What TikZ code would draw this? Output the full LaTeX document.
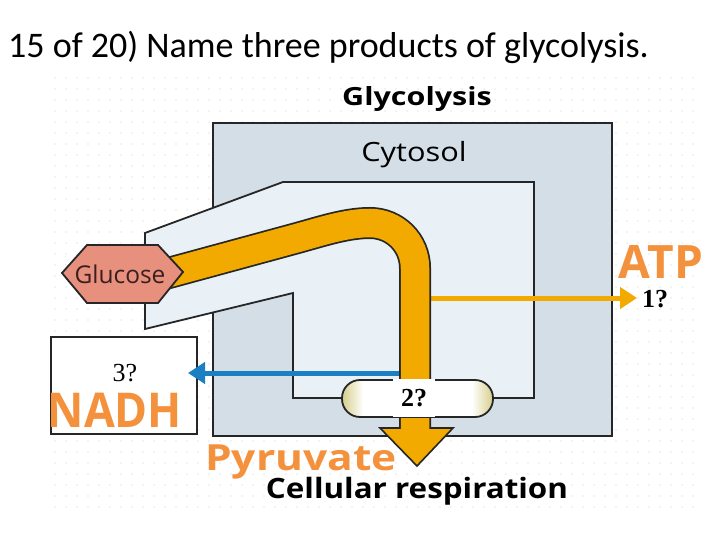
\documentclass[tikz,border=0pt]{standalone}
\usepackage{fontspec}
\setmainfont{Open Sans}
\newfontfamily\titlefont{Carlito}
\newfontfamily\qfont{Liberation Serif}
\usetikzlibrary{arrows.meta}
\definecolor{boxblue}{HTML}{D4DEE6}
\definecolor{funnelc}{HTML}{EAF1F6}
\definecolor{tubec}{HTML}{F2A900}
\definecolor{lblc}{HTML}{F4913C}
\definecolor{gluc}{HTML}{E8907E}
\definecolor{glutext}{HTML}{3B1F1F}
\definecolor{pilltan}{HTML}{D6CE8A}
\definecolor{arrblue}{HTML}{1B7FC3}
\definecolor{edgec}{HTML}{262626}
\definecolor{dotc}{HTML}{CFCFCF}
\pgfdeclarehorizontalshading{pillshade}{100bp}{color(0bp)=(pilltan); color(25bp)=(pilltan); color(32bp)=(white); color(68bp)=(white); color(75bp)=(pilltan); color(100bp)=(pilltan)}
\begin{document}
\begin{tikzpicture}[x=1pt,y=-1pt,
  outline/.style={draw=edgec,line width=1.8pt,line join=miter},
  bigorange/.style={text=lblc,font=\bfseries\fontsize{#1}{#1}\selectfont,inner sep=0pt},
  qmark/.style={font=\qfont\bfseries\fontsize{26}{26}\selectfont,inner sep=0pt},
  flow/.style={line width=5pt,-{Triangle[length=17pt,width=21pt]}}]
\useasboundingbox (0,0) rectangle (720,540);
\fill[white] (0,0) rectangle (720,540);
% dotted background
\foreach \i in {0,...,58}{\foreach \j in {0,...,39}{\fill[dotc] (55+11*\i,78+11*\j) circle (0.65);}}
% title
\node[anchor=base west,inner sep=0pt,font=\titlefont\fontsize{36}{36}\selectfont] (title) at (8,58) {15 of 20) Name three products of glycolysis.};
% cytosol box
\filldraw[outline,fill=boxblue] (213,123) rectangle (612,436);
% funnel
\filldraw[outline,fill=funnelc] (145,233) -- (283,182) -- (534,182) -- (534,398) -- (293,398) -- (293,293) -- (145,329) -- cycle;
% NADH box
\filldraw[outline,fill=white] (51,337) rectangle (197,434);
\node[anchor=north west,inner sep=0pt] (nadhbox) at (51,337) {};
% coordinates for arrows
\coordinate (bluestart) at (405,373);
\coordinate (bluetip) at (188,373);
\coordinate (atpstart) at (425,298);
\coordinate (atptip) at (637,298);
\draw[flow,arrblue] (bluestart) -- (bluetip);
\draw[flow,tubec] (atpstart) -- (atptip);
% tube
\coordinate (t0) at (165,274);
\coordinate (t1) at (290,240);
\coordinate (t2) at (370,223);
\coordinate (t3) at (415,268);
\coordinate (t4) at (415,429);
\draw[edgec,line width=32pt] (t0) -- (t1) .. controls (320,232) and (345,223) .. (t2) .. controls (395,223) and (415,243) .. (t3) -- (t4);
\filldraw[outline,fill=tubec,line width=1.6pt] (380,428) -- (453,428) -- (417,466) -- cycle;
\draw[tubec,line width=28.5pt] (t0) -- (t1) .. controls (320,232) and (345,223) .. (t2) .. controls (395,223) and (415,243) .. (t3) -- (415,430);
% glucose
\filldraw[outline,fill=gluc] (62,273) -- (87,245) -- (158,245) -- (183,272) -- (158,303) -- (87,303) -- cycle;
\node[text=glutext,inner sep=0pt,font=\fontsize{24.5}{24.5}\selectfont] (glucose) at (120,274) {Glucose};
% pill
\draw[outline,shading=pillshade,rounded corners=18pt] (342,380) rectangle (493,417);
\node[fill=white,minimum width=42pt,minimum height=38pt,inner sep=0pt] (pill) at (414,398) {};
\node[qmark,anchor=base] (two) at (414,406) {2?};
% labels
\node[anchor=base,inner sep=0pt,font=\bfseries\fontsize{25}{25}\selectfont] (glyco) at (417,106) {\scalebox{1.22}[1]{Glycolysis}};
\node[anchor=base,inner sep=0pt,font=\fontsize{26.5}{26.5}\selectfont] (cytosol) at (414,162) {\scalebox{1.16}[1]{Cytosol}};
\node[bigorange=46,anchor=base] (atp) at (661,278) {ATP};
\node[qmark,anchor=base] (one) at (655,307) {1?};
\node[font=\qfont\fontsize{26}{26}\selectfont,inner sep=0pt,anchor=base] (three) at (125,381) {3?};
\node[bigorange=48,anchor=base] (nadh) at (115,427) {\scalebox{0.93}[1]{NADH}};
\node[bigorange=36,anchor=base] (pyruvate) at (301,470) {\scalebox{1.18}[1]{Pyruvate}};
\node[anchor=base,inner sep=0pt,font=\bfseries\fontsize{28}{28}\selectfont] (cellresp) at (417,498) {\scalebox{1.12}[1]{Cellular respiration}};
\end{tikzpicture}
\end{document}
